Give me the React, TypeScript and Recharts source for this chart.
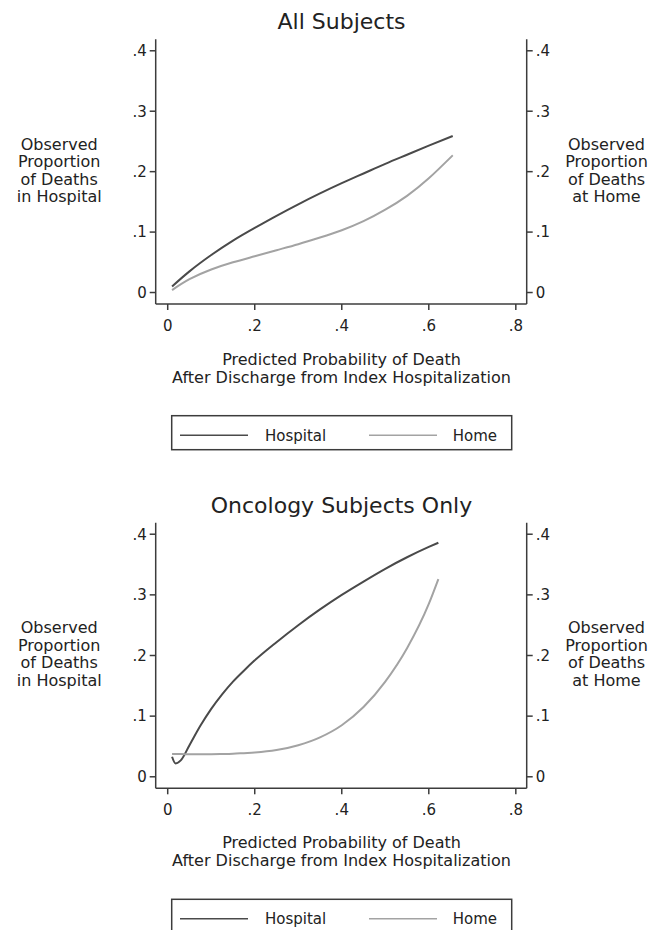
import React from "react";
import { LineChart, Line, XAxis, YAxis } from "recharts";

// ---------- data ----------
const allX = [0.01, 0.05, 0.1, 0.15, 0.2, 0.25, 0.3, 0.35, 0.4, 0.45, 0.5, 0.55, 0.6, 0.655];
const allHospital = [0.01, 0.035, 0.062, 0.086, 0.107, 0.127, 0.146, 0.164, 0.181, 0.197, 0.213, 0.228, 0.243, 0.259];
const allHome = [0.004, 0.022, 0.038, 0.05, 0.06, 0.07, 0.08, 0.091, 0.103, 0.118, 0.137, 0.16, 0.189, 0.227];

const oncX = [0.01, 0.018, 0.03, 0.05, 0.075, 0.1, 0.125, 0.15, 0.175, 0.2, 0.25, 0.3, 0.35, 0.4, 0.45, 0.5, 0.55, 0.6, 0.622];
const oncHospital = [0.033, 0.022, 0.027, 0.052, 0.084, 0.112, 0.136, 0.157, 0.175, 0.192, 0.222, 0.25, 0.276, 0.3, 0.322, 0.343, 0.362, 0.379, 0.386];
const oncHome = [0.0375, 0.0375, 0.0375, 0.0372, 0.0372, 0.0372, 0.0375, 0.038, 0.039, 0.04, 0.044, 0.052, 0.065, 0.085, 0.115, 0.157, 0.212, 0.285, 0.326];

const xTicks = [0, 0.2, 0.4, 0.6, 0.8];
const yTicks = [0, 0.1, 0.2, 0.3, 0.4];
const titles = ["All Subjects", "Oncology Subjects Only"];
const leftLabel = ["Observed", "Proportion", "of Deaths", "in Hospital"];
const rightLabel = ["Observed", "Proportion", "of Deaths", "at Home"];
const xLabel = ["Predicted Probability of Death", "After Discharge from Index Hospitalization"];
const seriesNames = ["Hospital", "Home"];

// ---------- style ----------
const FONT = "'DejaVu Sans', Verdana, sans-serif";
const HOSP_COLOR = "#4a4a4a";
const HOME_COLOR = "#a3a3a3";
const FRAME = "#3c3c3c";
const TEXT = "#222";
const X_DOMAIN: [number, number] = [-0.0276, 0.825];
const Y_DOMAIN: [number, number] = [-0.019, 0.419];

const fmt = (v: number) => (v === 0 ? "0" : String(v).replace(/^0\./, "."));

function build(xs: number[], h: number[], m: number[]) {
  return xs.map((x, i) => ({ x, hospital: h[i], home: m[i] }));
}

const tickStyle = { fontSize: 15, fill: TEXT, fontFamily: FONT };

function Panel({ data, top, height, plotTop, plotBottom, curve }: any) {
  const xAxisH = 36;
  const yW = 30;
  return (
    <div style={{ position: "absolute", left: 0, top, width: 657, height }}>
      <LineChart
        width={657}
        height={height}
        data={data}
        margin={{ top: plotTop, left: 155.7 - yW, right: 657 - 526.7 - yW, bottom: height - plotBottom - xAxisH }}
        style={{ fontFamily: FONT }}
      >
        <XAxis
          xAxisId="b"
          type="number"
          dataKey="x"
          domain={X_DOMAIN}
          allowDataOverflow
          ticks={xTicks}
          tickFormatter={fmt}
          height={xAxisH}
          tickSize={6}
          tickMargin={10}
          stroke={FRAME}
          strokeWidth={1.5}
          tick={tickStyle}
          interval={0}
        />
        <XAxis
          xAxisId="t"
          orientation="top"
          type="number"
          dataKey="x"
          domain={X_DOMAIN}
          allowDataOverflow
          height={0}
          tick={false}
          tickLine={false}
          stroke={FRAME}
          strokeWidth={1.5}
        />
        <YAxis
          yAxisId="l"
          type="number"
          domain={Y_DOMAIN}
          allowDataOverflow
          ticks={yTicks}
          tickFormatter={fmt}
          width={yW}
          tickSize={6}
          tickMargin={3}
          stroke={FRAME}
          strokeWidth={1.5}
          tick={tickStyle}
          interval={0}
        />
        <YAxis
          yAxisId="r"
          orientation="right"
          type="number"
          domain={Y_DOMAIN}
          allowDataOverflow
          ticks={yTicks}
          tickFormatter={fmt}
          width={yW}
          tickSize={6}
          tickMargin={3}
          stroke={FRAME}
          strokeWidth={1.5}
          tick={tickStyle}
          interval={0}
        />
        <Line
          xAxisId="b"
          yAxisId="l"
          type={curve}
          dataKey="hospital"
          name={seriesNames[0]}
          stroke={HOSP_COLOR}
          strokeWidth={2}
          dot={false}
          isAnimationActive={false}
        />
        <Line
          xAxisId="b"
          yAxisId="l"
          type={curve}
          dataKey="home"
          name={seriesNames[1]}
          stroke={HOME_COLOR}
          strokeWidth={2}
          dot={false}
          isAnimationActive={false}
        />
      </LineChart>
    </div>
  );
}

function Texts({ title, titleY, sideY, xLabY, legendY }: any) {
  const lh = 17.6;
  return (
    <g fontFamily={FONT} fill={TEXT}>
      <text x={341.5} y={titleY} fontSize={22} textAnchor="middle">{title}</text>
      {leftLabel.map((t, i) => (
        <text key={"l" + i} x={59.2} y={sideY + i * lh} fontSize={16} textAnchor="middle">{t}</text>
      ))}
      {rightLabel.map((t, i) => (
        <text key={"r" + i} x={606.5} y={sideY + i * lh} fontSize={16} textAnchor="middle">{t}</text>
      ))}
      {xLabel.map((t, i) => (
        <text key={"x" + i} x={341.5} y={xLabY + i * 18} fontSize={16} textAnchor="middle">{t}</text>
      ))}
      <rect x={171.7} y={legendY} width={340} height={34} fill="none" stroke={FRAME} strokeWidth={1.5} />
      <line x1={180} x2={248} y1={legendY + 19.5} y2={legendY + 19.5} stroke={HOSP_COLOR} strokeWidth={1.5} />
      <text x={265} y={legendY + 25} fontSize={15}>{seriesNames[0]}</text>
      <line x1={369} x2={437} y1={legendY + 19.5} y2={legendY + 19.5} stroke={HOME_COLOR} strokeWidth={1.5} />
      <text x={452.7} y={legendY + 25} fontSize={15}>{seriesNames[1]}</text>
    </g>
  );
}

export default function App() {
  const d1 = build(allX, allHospital, allHome);
  const d2 = build(oncX, oncHospital, oncHome);
  return (
    <div style={{ position: "absolute", left: 0, top: 0, width: 657, height: 930, background: "#fff", overflow: "hidden" }}>
      <Panel data={d1} top={0} height={350} plotTop={39.3} plotBottom={304} curve="natural" />
      <Panel data={d2} top={470} height={370} plotTop={52.7} plotBottom={318.3} curve="monotone" />
      <svg width={657} height={930} style={{ position: "absolute", left: 0, top: 0, pointerEvents: "none" }}>
        <Texts title={titles[0]} titleY={29.3} sideY={149.5} xLabY={365} legendY={415.7} />
        <Texts title={titles[1]} titleY={512.7} sideY={633} xLabY={848} legendY={899.3} />
      </svg>
    </div>
  );
}
